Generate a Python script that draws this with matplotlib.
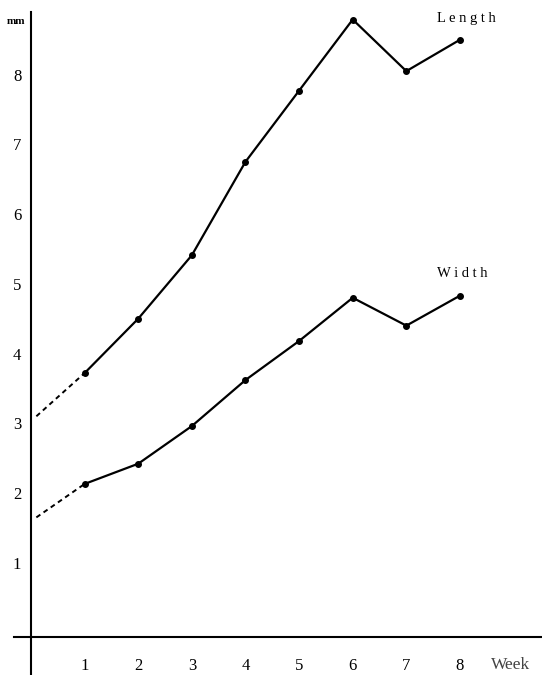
import numpy as np
import matplotlib.pyplot as plt
plt.switch_backend('agg')

plt.rcParams['font.family'] = ['Liberation Serif', 'DejaVu Serif']

weeks = [1, 2, 3, 4, 5, 6, 7, 8]
length_mm = [3.72, 4.50, 5.41, 6.75, 7.77, 8.79, 8.05, 8.50]
width_mm = [2.13, 2.42, 2.96, 3.62, 4.18, 4.80, 4.40, 4.83]

# extrapolated start of each curve (dashed part)
start_x = 0.1
length_start = 3.10
width_start = 1.65

y_ticks = [1, 2, 3, 4, 5, 6, 7, 8]

fig = plt.figure(figsize=(5.42, 6.75), dpi=100)
ax = fig.add_axes([0, 0, 1, 1])

for y0, vals in ((length_start, length_mm), (width_start, width_mm)):
    ax.plot([start_x, weeks[0]], [y0, vals[0]], color='k', lw=1.4,
            linestyle=(0, (2.5, 2)))
    ax.plot(weeks, vals, 'o-', color='k', lw=1.6, markersize=4)

ax.text(weeks[-1] - 0.42, length_mm[-1] + 0.26, 'L e n g t h', fontsize=10.5)
ax.text(weeks[-1] - 0.42, width_mm[-1] + 0.27, 'W i d t h', fontsize=10.5)

ax.set_xlim(-0.578, 9.53)
ax.set_ylim(-0.61, 9.07)

for s in ('top', 'right'):
    ax.spines[s].set_visible(False)
ax.spines['left'].set_position(('data', 0))
# the drawn baseline sits a little under zero in the original
ax.spines['bottom'].set_position(('data', -0.07))
ax.spines['left'].set_bounds(-0.61, 8.9)
ax.spines['bottom'].set_bounds(-0.32, 9.53)
ax.spines['left'].set_linewidth(1.5)
ax.spines['bottom'].set_linewidth(1.5)

ax.set_xticks(weeks)
ax.set_yticks(y_ticks)
ax.tick_params(axis='x', length=0, pad=15, labelsize=12)
ax.tick_params(axis='y', length=0, pad=7, labelsize=12)

ax.text(-0.28, 8.76, 'mm', fontsize=8, fontweight='bold', ha='center', va='center')
ax.text(8.95, -0.47, 'Week', fontsize=12.5, color='#444', ha='center', va='center')

fig.savefig('out.png', dpi=100)
